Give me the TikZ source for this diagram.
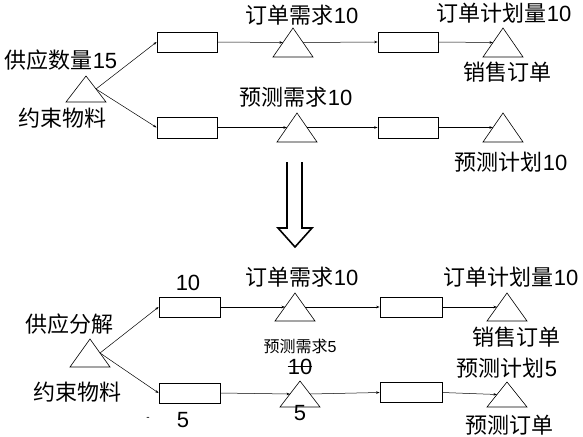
\documentclass[tikz,border=0pt]{standalone}
\usepackage{fontspec}
\setmainfont{Liberation Sans}
\newfontfamily\cjk{Noto Sans CJK SC}
\usetikzlibrary{arrows.meta}
\newcommand\mytri[5]{%
  \draw[triline] (#2,#3) -- ++(#4,#5) -- ++(-2*#4,0) -- cycle;
  \coordinate (#1-l) at (#2-#4/2,#3+#5/2);
  \coordinate (#1-r) at (#2+#4/2,#3+#5/2);
}
\begin{document}
\begin{tikzpicture}[x=1pt,y=-1pt,
  box/.style={draw,line width=0.8pt,minimum width=60pt,minimum height=20pt,inner sep=0pt},
  triline/.style={line width=0.6pt},
  conn/.style={line width=0.5pt,-{Stealth[length=3.5pt,width=2.5pt]}},
  lbl/.style={font=\fontsize{22}{22}\selectfont,inner sep=0pt},
  slbl/.style={font=\fontsize{16}{16}\selectfont,inner sep=0pt}]
\useasboundingbox (0,0) rectangle (583,436);
% ---------- top section ----------
\mytri{tA}{86}{76}{20}{26}
\mytri{tB}{293}{28}{20}{29}
\mytri{tC}{503}{28}{20}{29}
\mytri{tD}{297}{113}{20}{29}
\mytri{tE}{503}{113}{20}{29}
\node[box] (b1) at (187,42) {};
\node[box,minimum height=21pt] (b2) at (187,127.5) {};
\node[box] (b3) at (408,42) {};
\node[box,minimum height=21pt] (b4) at (408,127.5) {};
\draw[conn] (tA-r) -- (b1.west);
\draw[conn] (tA-r) -- (b2.west);
\draw[conn] (b1.east) -- (tB-l);
\draw[conn] (tB-r) -- (b3.west);
\draw[conn] (b3.east) -- (tC-l);
\draw[conn] (b2.east) -- (tD-l);
\draw[conn] (tD-r) -- (b4.west);
\draw[conn] (b4.east) -- (tE-l);
\node[lbl] (l1) at (61,60) {{\cjk 供应数量}15};
\node[lbl] (l2) at (62,118) {\cjk 约束物料};
\node[lbl] (l3) at (302,15) {{\cjk 订单需求}10};
\node[lbl] (l4) at (504,13) {{\cjk 订单计划量}10};
\node[lbl] (l5) at (507,72) {\cjk 销售订单};
\node[lbl] (l6) at (296,97) {{\cjk 预测需求}10};
\node[lbl] (l7) at (511,162) {{\cjk 预测计划}10};
% ---------- big arrow ----------
\draw[line width=1.6pt,line join=miter] (287,162) -- (287,228) -- (278,228) -- (295,247) -- (312,228) -- (302,228) -- (302,162);
% ---------- bottom section ----------
\mytri{tF}{90}{339}{20}{28}
\mytri{tG}{295}{293}{20}{28}
\mytri{tH}{507}{293}{20}{28}
\mytri{tI}{300}{381}{20}{26}
\mytri{tJ}{507}{382}{20}{25}
\node[box,minimum width=61pt] (b5) at (189.5,307) {};
\node[box,minimum width=61pt] (b6) at (189.5,393) {};
\node[box,minimum width=62pt] (b7) at (411,307) {};
\node[box,minimum width=62pt] (b8) at (411,392.5) {};
\draw[conn] (tF-r) -- (b5.west);
\draw[conn] (tF-r) -- (b6.west);
\draw[conn] (b5.east) -- (tG-l);
\draw[conn] (tG-r) -- (b7.west);
\draw[conn] (b7.east) -- (tH-l);
\draw[conn] (b6.east) -- (tI-l);
\draw[conn] (tI-r) -- (b8.west);
\draw[conn] (b8.east) -- (tJ-l);
\node[lbl] (m1) at (188,283) {10};
\node[lbl] (m2) at (69,324) {\cjk 供应分解};
\node[lbl] (m3) at (77,392) {\cjk 约束物料};
\node[lbl] (m4) at (183,420) {5};
\node[font=\fontsize{10}{10}\selectfont,inner sep=0pt] (m5) at (148,419) {-};
\node[lbl] (m6) at (302,277) {{\cjk 订单需求}10};
\node[lbl] (m7) at (511,277) {{\cjk 订单计划量}10};
\node[lbl] (m8) at (516,337) {\cjk 销售订单};
\node[slbl] (m9) at (300,346) {{\cjk 预测需求}5};
\node[lbl] (m10) at (300,366.5) {10};
\draw[line width=0.8pt] (m10.west) -- (m10.east);
\node[lbl] (m11) at (300,413) {5};
\node[lbl] (m12) at (507,368) {{\cjk 预测计划}5};
\node[lbl] (m13) at (509,425) {\cjk 预测订单};
\end{tikzpicture}
\end{document}
